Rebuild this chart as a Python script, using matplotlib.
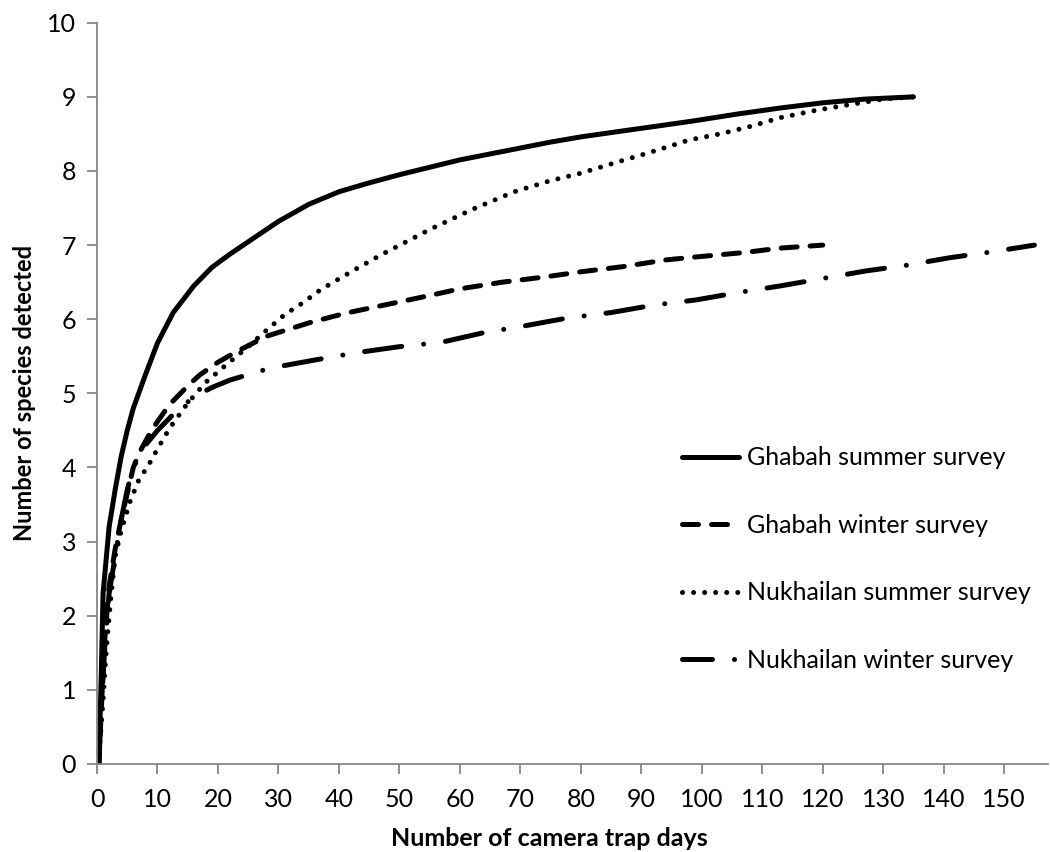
import matplotlib.pyplot as plt

plt.rcParams['font.family'] = ['Lato', 'DejaVu Sans']

# ---- data ----
ghabah_summer_days = [0.3, 0.7, 1, 2, 3, 4, 5, 6, 8, 10, 12.6, 16, 19, 22, 26, 30, 35, 40,
                      45, 50, 55, 60, 65, 70, 75, 80, 86, 93, 99, 106, 113, 120, 127, 135]
ghabah_summer_spp = [0, 1.2, 2.3, 3.2, 3.7, 4.15, 4.5, 4.8, 5.25, 5.68, 6.09, 6.45, 6.7, 6.88,
                     7.1, 7.32, 7.55, 7.72, 7.84, 7.95, 8.05, 8.15, 8.23, 8.31, 8.39, 8.46,
                     8.53, 8.61, 8.68, 8.77, 8.85, 8.92, 8.97, 9.0]

ghabah_winter_days = [0.3, 0.8, 1.3, 2, 3, 4, 5, 6, 7, 8.8, 10, 12, 15, 17, 20, 23, 28, 35,
                      41, 48, 55, 60, 67, 74, 80, 87, 94, 99, 107, 113, 120]
ghabah_winter_spp = [0, 0.9, 1.7, 2.4, 2.9, 3.3, 3.65, 4.0, 4.2, 4.47, 4.62, 4.85, 5.1, 5.25,
                     5.42, 5.56, 5.77, 5.95, 6.08, 6.2, 6.32, 6.41, 6.5, 6.57, 6.64, 6.71,
                     6.8, 6.84, 6.9, 6.96, 7.0]

nukh_summer_days = [0.2, 1, 1.3, 1.8, 2.3, 3, 4, 5.5, 7, 8.3, 10, 12, 15, 18, 21, 25, 28,
                    31, 34, 37, 42, 47, 55, 62, 69, 75, 80, 86, 91, 98, 103, 108, 113, 119,
                    124, 130, 135]
nukh_summer_spp = [0, 0.85, 1.27, 1.8, 2.25, 2.8, 3.15, 3.55, 3.85, 4.0, 4.25, 4.53, 4.87,
                   5.15, 5.36, 5.63, 5.85, 6.06, 6.22, 6.4, 6.64, 6.87, 7.21, 7.48, 7.72,
                   7.87, 7.97, 8.12, 8.24, 8.42, 8.5, 8.6, 8.72, 8.82, 8.89, 8.97, 9.0]

nukh_winter_days = [0.3, 0.8, 1.3, 2, 3, 4, 5, 6, 8, 10, 13, 16, 19, 22, 28.6, 36, 43, 50,
                    57, 64, 70, 78, 85, 92, 99, 106, 113, 120, 127, 134, 141, 148, 155]
nukh_winter_spp = [0, 0.9, 1.6, 2.3, 2.8, 3.3, 3.7, 4.0, 4.3, 4.5, 4.75, 4.95, 5.08, 5.18,
                   5.34, 5.45, 5.55, 5.63, 5.69, 5.82, 5.9, 6.02, 6.09, 6.19, 6.26, 6.36,
                   6.45, 6.55, 6.65, 6.73, 6.83, 6.91, 7.0]

labels = ['Ghabah summer survey', 'Ghabah winter survey',
          'Nukhailan summer survey', 'Nukhailan winter survey']

fig = plt.figure(figsize=(10.5, 8.52), dpi=100)
ax = fig.add_axes([0.0924, 0.1033, 0.906, 0.870])

lw = 3.6
dashdot = (7.5, 4.4, 0.01, 4.4)
ax.plot(ghabah_summer_days, ghabah_summer_spp, color='black', lw=lw,
        solid_capstyle='round', solid_joinstyle='round', label=labels[0])
ax.plot(ghabah_winter_days, ghabah_winter_spp, color='black', lw=lw,
        linestyle=(0, (3.2, 2.6)), dash_capstyle='round', label=labels[1])
ax.plot(nukh_summer_days, nukh_summer_spp, color='black', lw=lw,
        linestyle=(0, (0.01, 2.2)), dash_capstyle='round', label=labels[2])
ax.plot(nukh_winter_days, nukh_winter_spp, color='black', lw=lw,
        linestyle=(0, dashdot), dash_capstyle='round', label=labels[3])

ax.set_xlim(0, 157.3)
ax.set_ylim(0, 10)
ax.set_xticks(range(0, 151, 10))
ax.set_yticks(range(0, 11))

for side in ['top', 'right']:
    ax.spines[side].set_visible(False)
for side in ['left', 'bottom']:
    ax.spines[side].set_color('#868686')
    ax.spines[side].set_linewidth(1.3)
ax.tick_params(direction='out', length=7, width=1.3, color='#868686', labelsize=18)
ax.tick_params(axis='y', pad=8)
ax.tick_params(axis='x', pad=10)

ax.set_xlabel('Number of camera trap days', fontsize=18, fontweight='bold', labelpad=12)
ax.xaxis.set_label_coords(0.476, -0.085)
ax.set_ylabel('Number of species detected', fontsize=17, fontweight='bold', labelpad=8)

leg = ax.legend(loc='lower right', bbox_to_anchor=(1.005, 0.094), frameon=False, fontsize=18,
                handlelength=2.3, handletextpad=0.3, labelspacing=1.78)
# shift the dash-dot pattern in the legend so the dot shows in the short handle
leg.legend_handles[3].set_linestyle((1.5, dashdot))

fig.savefig('out.png', dpi=100)
